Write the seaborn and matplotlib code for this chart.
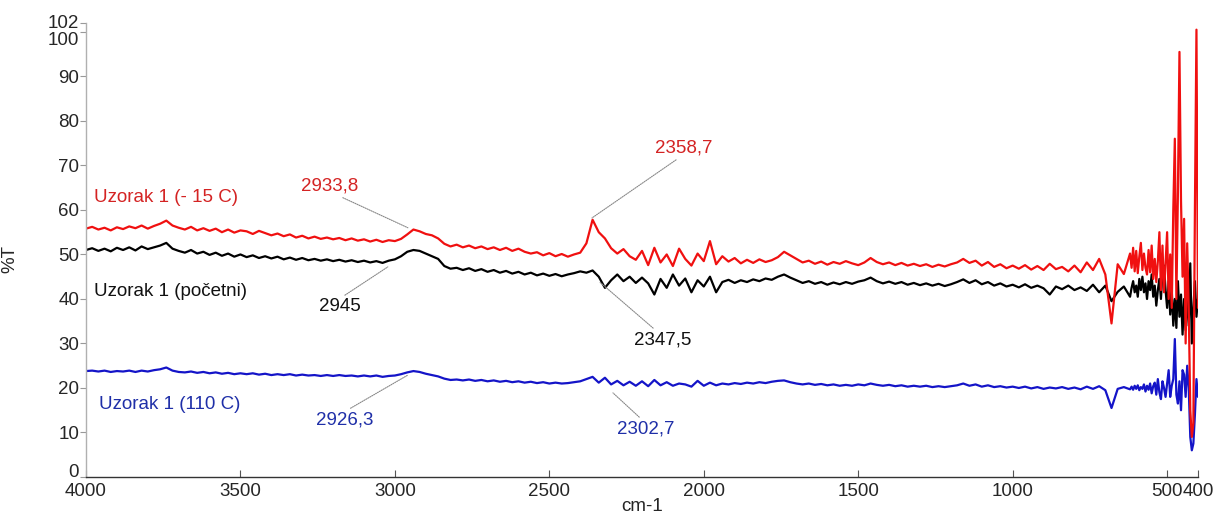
import numpy as np
import pandas as pd
import matplotlib
matplotlib.use("Agg")
import matplotlib.pyplot as plt
import seaborn as sns

# ---------------- data ----------------
# wavenumber grid: 4000..620 every 20 cm-1, then 615..400 every 5 cm-1
wn_coarse = list(range(4000, 619, -20))
wn_fine = list(range(615, 399, -5))
wavenumber = wn_coarse + wn_fine

red_T = [
    55.8, 56.2, 55.6, 56.0, 55.4, 56.1, 55.7, 56.3, 55.9, 56.5, 55.8,
    56.4, 56.9, 57.6, 56.5, 56.0, 55.6, 56.2, 55.4, 55.9, 55.3,
    55.8, 55.0, 55.6, 54.9, 55.4, 55.2, 54.6, 55.3, 54.8, 54.3,
    54.7, 54.1, 54.5, 53.8, 54.2, 53.6, 54.0, 53.5, 53.8, 53.4,
    53.7, 53.2, 53.6, 53.1, 53.4, 52.9, 53.3, 52.8, 53.2, 53.0,
    53.5, 54.5, 55.6, 55.2, 54.6, 54.3, 53.6, 52.4, 51.8, 52.2,
    51.6, 52.0, 51.4, 51.8, 51.2, 51.6, 51.0, 51.5, 50.8, 51.3,
    50.6, 50.2, 50.5, 49.8, 50.3, 49.6, 50.1, 49.5, 50.0, 50.4,
    52.5, 57.8, 55.0, 53.6, 51.4, 50.2, 51.2, 49.6, 48.8, 50.8,
    47.6, 51.5, 48.2, 50.0, 47.4, 51.3, 49.0, 47.5, 50.2, 48.5,
    53.0, 47.8, 49.6, 48.4, 49.2, 48.0, 48.8, 48.1, 48.9, 48.3,
    48.7, 49.4, 50.6, 49.8, 49.0, 48.2, 48.6, 47.9, 48.4, 47.7,
    48.3, 47.9, 48.5, 48.0, 47.6, 48.2, 49.2, 48.3, 47.8, 48.2,
    47.6, 48.1, 47.5, 47.9, 47.4, 47.8, 47.2, 47.7, 47.3, 47.8,
    48.2, 49.0, 48.1, 48.6, 47.5, 48.3, 47.2, 47.8, 46.9, 47.5,
    46.8, 47.6, 46.6, 47.4, 46.5, 47.9, 46.7, 47.2, 46.2, 47.5,
    46.0, 48.2, 46.5, 49.0, 45.5, 34.5, 47.8, 45.6, 50.2,
    # fine part 615..400
    47.0, 51.5, 46.2, 50.8, 45.8, 49.5, 52.6, 46.5, 50.2, 47.0,
    45.5, 51.0, 46.0, 52.0, 44.5, 49.0, 43.8, 48.5, 55.0, 42.0,
    52.0, 41.5, 48.0, 55.0, 40.0, 50.0, 38.0, 60.0, 76.0, 40.0,
    64.0, 95.5, 62.0, 45.0, 58.0, 30.0, 52.5, 38.0, 15.0, 9.0,
    12.0, 60.0, 100.5, 38.0,
]

black_T = [
    51.0, 51.4, 50.8, 51.3, 50.7, 51.5, 51.0, 51.6, 50.9, 51.8, 51.2,
    51.6, 52.0, 52.6, 51.3, 50.8, 50.4, 51.0, 50.2, 50.6, 49.9,
    50.4, 49.7, 50.2, 49.5, 50.0, 49.4, 49.8, 49.2, 49.6, 49.1,
    49.5, 48.9, 49.3, 48.8, 49.2, 48.7, 49.0, 48.6, 48.9, 48.5,
    48.8, 48.4, 48.7, 48.3, 48.6, 48.2, 48.5, 48.1, 48.6, 48.9,
    49.6, 50.6, 51.0, 50.8, 50.2, 49.6, 49.0, 47.4, 46.8, 47.0,
    46.5, 46.9, 46.3, 46.7, 46.1, 46.5, 45.9, 46.3, 45.7, 46.1,
    45.5, 45.9, 45.3, 45.7, 45.2, 45.6, 45.1, 45.5, 45.8, 46.2,
    45.9, 46.4, 45.0, 42.5, 44.2, 45.5, 44.0, 45.0, 43.6, 44.8,
    43.5, 41.0, 44.5, 42.5, 45.5, 43.0, 44.6, 41.5, 44.2, 42.8,
    45.0, 41.5, 43.8, 44.3, 43.6, 44.2, 43.8, 44.4, 44.0, 44.6,
    44.3, 45.0, 45.5, 44.8, 44.2, 43.6, 44.0, 43.4, 43.8, 43.2,
    43.7, 43.3, 43.8, 43.4, 43.9, 44.2, 44.8, 44.0, 43.5, 43.9,
    43.4, 43.8, 43.2, 43.6, 43.1, 43.5, 43.0, 43.4, 42.9, 43.3,
    43.8, 44.4, 43.6, 44.2, 43.3, 43.8, 43.0, 43.5, 42.8, 43.2,
    42.6, 43.3, 42.5, 43.0, 42.4, 41.0, 42.8, 42.2, 43.0, 42.0,
    42.6, 41.8, 43.2, 41.5, 43.0, 39.5, 41.6, 42.8, 40.5,
    # fine part 615..400
    42.5, 44.0, 41.5, 43.0, 40.5, 44.5, 42.0, 45.0, 41.5, 43.5,
    40.0, 44.0, 42.0, 45.5, 40.5, 43.0, 38.5, 42.0, 44.5, 40.0,
    46.0, 47.5, 42.0, 38.0, 44.0, 36.5, 42.0, 34.0, 40.0, 33.5,
    44.0, 36.0, 41.0, 32.0, 40.0, 33.0, 42.0, 34.0, 48.0, 30.0,
    38.0, 44.0, 36.0, 40.0,
]

blue_T = [
    23.8, 23.9, 23.7, 23.9, 23.6, 23.8, 23.7, 23.9, 23.6, 23.9, 23.7,
    24.0, 24.2, 24.6, 23.9, 23.6, 23.5, 23.7, 23.4, 23.6, 23.3,
    23.5, 23.2, 23.4, 23.1, 23.3, 23.1, 23.3, 23.0, 23.2, 22.9,
    23.1, 22.9, 23.1, 22.8, 23.0, 22.8, 22.9, 22.7, 22.9, 22.7,
    22.9, 22.7, 22.8, 22.6, 22.8, 22.6, 22.8, 22.5, 22.7, 22.8,
    23.1, 23.5, 23.8, 23.6, 23.2, 22.9, 22.6, 22.1, 21.8, 21.9,
    21.7, 21.9, 21.6, 21.8, 21.5, 21.7, 21.4, 21.6, 21.3, 21.5,
    21.2, 21.4, 21.1, 21.3, 21.0, 21.2, 21.0, 21.1, 21.3, 21.5,
    22.0, 22.5, 21.2, 22.3, 20.8, 21.6, 20.6, 21.4, 20.5, 21.5,
    20.4, 21.8, 20.6, 21.3, 20.5, 21.0, 20.8, 20.3, 21.6, 20.5,
    21.2, 20.6, 21.0, 20.8, 21.1, 20.9, 21.2, 21.0, 21.3, 21.1,
    21.4, 21.6, 21.7, 21.3, 21.0, 20.8, 21.0, 20.7, 20.9, 20.6,
    20.8, 20.5, 20.7, 20.5, 20.8, 20.6, 21.0, 20.7, 20.5, 20.7,
    20.4, 20.6, 20.3, 20.5, 20.3, 20.5, 20.2, 20.4, 20.2, 20.4,
    20.6, 21.0, 20.5, 20.8, 20.3, 20.6, 20.2, 20.4, 20.1, 20.3,
    20.0, 20.3, 19.9, 20.2, 19.8, 20.1, 19.9, 20.2, 19.8, 20.1,
    19.7, 20.3, 19.8, 20.4, 19.5, 15.5, 19.8, 20.2, 19.7,
    # fine part 615..400
    20.3, 19.6, 20.5, 19.8, 20.6, 19.5, 20.2, 19.8, 20.8, 19.2,
    20.5, 19.6, 21.0, 18.8, 20.4, 21.2, 18.5, 22.0, 19.0, 17.5,
    21.5, 20.0, 18.0, 21.0, 24.0, 18.0, 20.5, 22.0, 31.0, 18.5,
    16.5, 21.5, 15.0, 24.0, 23.0, 18.0, 25.0, 20.0, 9.0, 6.0,
    7.5, 14.0, 22.0, 18.0,
]

series_names = ["Uzorak 1 (početni)", "Uzorak 1 (110 C)", "Uzorak 1 (- 15 C)"]
series_colors = ["#000000", "#1414c8", "#f01010"]
label_colors = ["#111111", "#1f2fa8", "#d42323"]

peak_labels = ["2933,8", "2945", "2926,3", "2358,7", "2347,5", "2302,7"]

x_ticks = [4000, 3500, 3000, 2500, 2000, 1500, 1000, 500, 400]
y_ticks = [0, 10, 20, 30, 40, 50, 60, 70, 80, 90, 100, 102]

# ---------------- build long table ----------------
frames = []
for name, vals in zip(series_names, [black_T, blue_T, red_T]):
    assert len(vals) == len(wavenumber), (name, len(vals), len(wavenumber))
    frames.append(pd.DataFrame({"cm-1": wavenumber, "%T": vals, "sample": name}))
df = pd.concat(frames, ignore_index=True)

# ---------------- plot ----------------
sns.set_style("ticks")
plt.rcParams["font.family"] = ["Liberation Sans", "DejaVu Sans"]

fig = plt.figure(figsize=(12.16, 5.15), dpi=100)
ax = fig.add_axes([86 / 1216, 38 / 515, 1112 / 1216, 454 / 515])

sns.lineplot(data=df, x="cm-1", y="%T", hue="sample", hue_order=series_names,
             palette=dict(zip(series_names, series_colors)), sort=False,
             estimator=None, linewidth=1.6, legend=False, ax=ax)

ax.set_xlim(4000, 400)
ax.set_ylim(0, 102)
ax.set_xticks(x_ticks)
ax.set_xticklabels([str(t) for t in x_ticks])
ax.set_yticks(y_ticks)
ax.set_yticklabels([str(t) for t in y_ticks])

ax.tick_params(axis="x", direction="in", length=5, width=0.8, color="#555555",
               labelsize=13.5, pad=4)
ax.tick_params(axis="y", direction="out", length=4, width=0.8, color="#999999",
               labelsize=13.5, pad=1)
# separate crowded labels like the reference
yt = ax.yaxis.get_major_ticks()
yt[-1].label1.set_verticalalignment("center")   # 102
yt[-2].label1.set_verticalalignment("top")      # 100
yt[0].label1.set_verticalalignment("baseline")  # 0

for s in ["top", "right"]:
    ax.spines[s].set_visible(False)
ax.spines["left"].set_color("#b0b0b0")
ax.spines["left"].set_linewidth(1.0)
ax.spines["bottom"].set_color("#333333")
ax.spines["bottom"].set_linewidth(1.0)

ax.set_xlabel("cm-1", fontsize=13.5)
ax.set_ylabel("%T", fontsize=13.5)
ax.xaxis.set_label_coords(0.5, -0.047)
ax.yaxis.set_label_coords(-0.061, 0.48)
ax.xaxis.label.set_verticalalignment("top")

# series labels
ax.text(3974, 62.7, series_names[2], color=label_colors[2], fontsize=13.5, ha="left", va="center")
ax.text(3974, 41.6, series_names[0], color=label_colors[0], fontsize=13.5, ha="left", va="center")
ax.text(3958, 16.2, series_names[1], color=label_colors[1], fontsize=13.5, ha="left", va="center")

# peak annotations with thin dotted leader lines
ann = [
    (peak_labels[0], label_colors[2], (2958, 56.0), (3210, 65.4), (0.6, 0.0)),
    (peak_labels[1], label_colors[0], (3023, 47.2), (3178, 38.2), (0.5, 1.0)),
    (peak_labels[2], label_colors[1], (2958, 22.9), (3162, 12.8), (0.5, 1.0)),
    (peak_labels[3], label_colors[2], (2362, 58.2), (2065, 73.9), (0.45, 0.0)),
    (peak_labels[4], label_colors[0], (2337, 43.8), (2133, 30.8), (0.4, 1.0)),
    (peak_labels[5], label_colors[1], (2294, 18.9), (2188, 10.8), (0.45, 1.0)),
]
for txt, col, xy, xyt, rp in ann:
    ax.annotate(txt, xy=xy, xytext=xyt, color=col, fontsize=13.5,
                ha="center", va="center",
                arrowprops=dict(arrowstyle="-", color="#888888", lw=0.8,
                                linestyle=(0, (1, 1)), relpos=rp,
                                shrinkA=0, shrinkB=0))

fig.savefig("out.png", dpi=100)
